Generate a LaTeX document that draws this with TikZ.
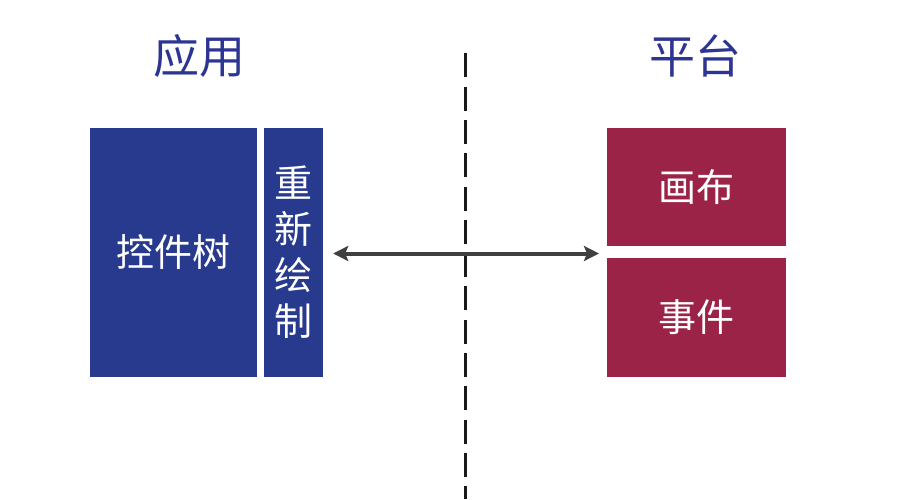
\documentclass[tikz,border=0pt]{standalone}
\usepackage{fontspec}
\newfontfamily\cjk{Noto Sans CJK SC}
\usetikzlibrary{arrows.meta}
\definecolor{headblue}{HTML}{2D3592}
\definecolor{appblue}{HTML}{283A8E}
\definecolor{platred}{HTML}{9B2348}
\definecolor{arrowgray}{HTML}{404040}
\tikzset{
  heading/.style={text=headblue, font=\cjk\fontsize{46}{52}\selectfont, inner sep=0pt},
  appbox/.style={fill=appblue, text=white, inner sep=0pt, font=\cjk\fontsize{38}{46}\selectfont, align=center},
  platbox/.style={fill=platred, text=white, inner sep=0pt, font=\cjk\fontsize{38}{46}\selectfont, align=center},
  divider/.style={black!90, line width=3pt, dash pattern=on 24pt off 9.3pt},
  link/.style={arrowgray, line width=4pt, {Stealth[length=15pt,width=15pt,inset=3pt]}-{Stealth[length=15pt,width=15pt,inset=3pt]}}
}
\begin{document}
\begin{tikzpicture}[x=1pt,y=-1pt]
\useasboundingbox[fill=white] (0,0) rectangle (912,499);
% headings
\node[heading] (app) at (199,56) {应用};
\node[heading] (plat) at (695,56) {平台};
% divider
\coordinate (dtop) at (465.5,53.3);
\coordinate (dbot) at (465.5,499);
\draw[divider] (dtop) -- (dbot);
% application boxes
\node[appbox, minimum width=167pt, minimum height=249pt] (tree) at (173.5,252.5) {控件树};
\node[appbox, minimum width=59pt, minimum height=249pt] (repaint) at (293.5,252.5) {重\\新\\绘\\制};
% platform boxes
\node[platbox, minimum width=179pt, minimum height=118pt] (canvas) at (696.5,187) {画布};
\node[platbox, minimum width=179pt, minimum height=119pt] (events) at (696.5,317.5) {事件};
% connector
\coordinate (pleft) at (607,253.5);
\draw[link, shorten <=10pt, shorten >=8pt] (repaint.east |- pleft) -- (pleft);
\end{tikzpicture}
\end{document}
